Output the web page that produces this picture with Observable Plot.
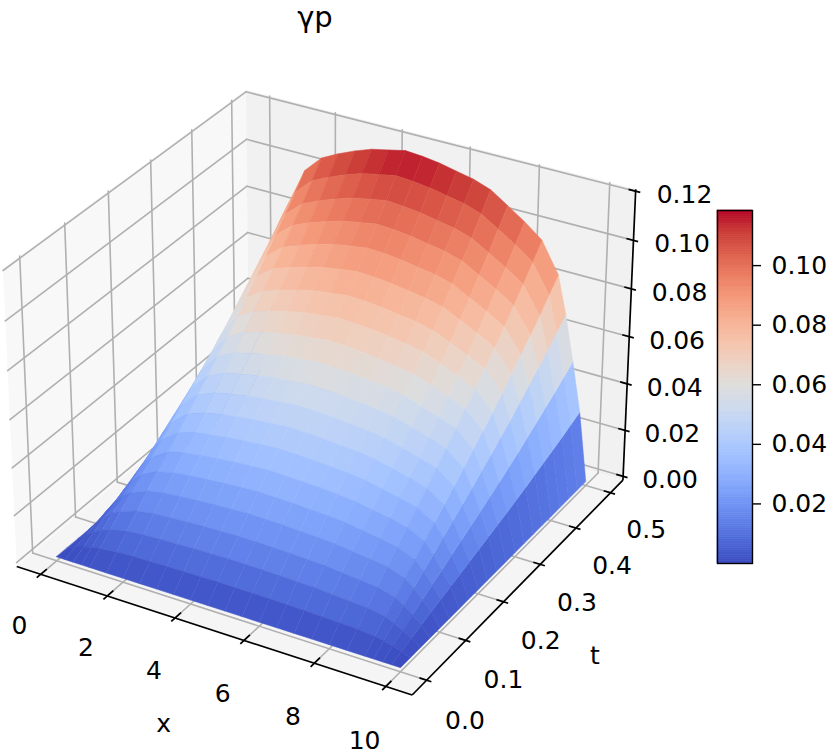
<!DOCTYPE html>
<html><head><meta charset="utf-8">
<script src="https://cdn.jsdelivr.net/npm/d3@7"></script>
<script src="https://cdn.jsdelivr.net/npm/@observablehq/plot@0.6"></script>
<style>
html,body{margin:0;padding:0;background:#fff;}
#fig{position:relative;width:830px;height:754px;overflow:hidden;font-family:"DejaVu Sans",sans-serif;background:#fff;}
#fig svg{position:absolute;left:0;top:0;}
#title{position:absolute;left:0;width:630px;top:0px;text-align:center;font-size:29px;line-height:normal;color:#000;z-index:3;font-family:"DejaVu Sans",sans-serif;}
</style></head><body>
<div id="fig"><div id="title">γp</div></div>
<script>
// ---- data ----
const xs = [0, 0.25, 0.5, 0.75, 1, 1.5, 2, 2.5, 3, 3.5, 4, 4.5, 5, 5.5, 6, 6.5, 7, 7.5, 8, 8.5, 9, 9.25, 9.5, 9.75, 10];
const ts = [0, 0.025, 0.05, 0.075, 0.1, 0.125, 0.15, 0.175, 0.2, 0.225, 0.25, 0.275, 0.3, 0.325, 0.35, 0.375, 0.4, 0.425, 0.45, 0.475, 0.5];
// γp(x, t): one row per value of ts, one column per value of xs
const gammaP = [
  [0,0,0,0,0,0,0,0,0,0,0,0,0,0,0,0,0,0,0,0,0,0,0,0,0],
  [0,0.0014,0.0026,0.0036,0.0042,0.0050,0.0054,0.0055,0.0057,0.0058,0.0059,0.0060,0.0059,0.0059,0.0058,0.0057,0.0056,0.0054,0.0051,0.0049,0.0042,0.0035,0.0025,0.0015,0],
  [0,0.0028,0.0052,0.0071,0.0084,0.0100,0.0107,0.0110,0.0113,0.0116,0.0117,0.0119,0.0118,0.0117,0.0116,0.0114,0.0112,0.0107,0.0102,0.0097,0.0084,0.0069,0.0050,0.0029,0],
  [0,0.0042,0.0077,0.0105,0.0124,0.0147,0.0158,0.0163,0.0167,0.0171,0.0173,0.0175,0.0174,0.0173,0.0171,0.0168,0.0165,0.0158,0.0151,0.0143,0.0124,0.0102,0.0074,0.0043,0],
  [0,0.0055,0.0101,0.0138,0.0164,0.0194,0.0208,0.0215,0.0220,0.0225,0.0228,0.0231,0.0230,0.0228,0.0225,0.0222,0.0217,0.0208,0.0199,0.0188,0.0164,0.0134,0.0097,0.0057,0],
  [0,0.0068,0.0125,0.0170,0.0202,0.0239,0.0256,0.0265,0.0271,0.0277,0.0281,0.0285,0.0283,0.0281,0.0277,0.0274,0.0268,0.0256,0.0245,0.0232,0.0202,0.0165,0.0119,0.0070,0],
  [0,0.0080,0.0148,0.0202,0.0239,0.0284,0.0304,0.0314,0.0322,0.0329,0.0333,0.0338,0.0336,0.0333,0.0329,0.0325,0.0318,0.0304,0.0291,0.0275,0.0239,0.0195,0.0141,0.0083,0],
  [0,0.0093,0.0172,0.0234,0.0277,0.0329,0.0352,0.0364,0.0373,0.0381,0.0386,0.0391,0.0390,0.0386,0.0381,0.0377,0.0368,0.0353,0.0337,0.0319,0.0277,0.0226,0.0164,0.0096,0],
  [0,0.0105,0.0195,0.0266,0.0315,0.0373,0.0399,0.0413,0.0424,0.0433,0.0439,0.0444,0.0443,0.0439,0.0433,0.0428,0.0418,0.0401,0.0383,0.0362,0.0315,0.0257,0.0186,0.0109,0],
  [0,0.0118,0.0219,0.0298,0.0353,0.0418,0.0447,0.0463,0.0475,0.0485,0.0492,0.0498,0.0496,0.0492,0.0485,0.0479,0.0468,0.0449,0.0429,0.0406,0.0353,0.0288,0.0208,0.0122,0],
  [0,0.0130,0.0242,0.0330,0.0391,0.0463,0.0495,0.0512,0.0525,0.0537,0.0544,0.0551,0.0549,0.0544,0.0537,0.0530,0.0518,0.0497,0.0474,0.0449,0.0391,0.0319,0.0230,0.0135,0],
  [0,0.0144,0.0267,0.0364,0.0431,0.0510,0.0546,0.0564,0.0579,0.0592,0.0600,0.0608,0.0605,0.0600,0.0592,0.0584,0.0571,0.0548,0.0523,0.0495,0.0431,0.0352,0.0254,0.0149,0],
  [0,0.0157,0.0291,0.0398,0.0470,0.0557,0.0596,0.0616,0.0633,0.0647,0.0655,0.0664,0.0661,0.0655,0.0647,0.0638,0.0624,0.0598,0.0571,0.0540,0.0470,0.0384,0.0277,0.0162,0],
  [0,0.0171,0.0317,0.0434,0.0512,0.0607,0.0650,0.0671,0.0690,0.0705,0.0714,0.0723,0.0720,0.0714,0.0705,0.0695,0.0680,0.0652,0.0622,0.0589,0.0512,0.0418,0.0302,0.0177,0],
  [0,0.0185,0.0343,0.0469,0.0554,0.0657,0.0703,0.0726,0.0746,0.0762,0.0772,0.0782,0.0779,0.0772,0.0762,0.0752,0.0736,0.0705,0.0673,0.0637,0.0554,0.0452,0.0327,0.0191,0],
  [0,0.0201,0.0372,0.0508,0.0601,0.0712,0.0762,0.0787,0.0808,0.0826,0.0837,0.0847,0.0844,0.0837,0.0826,0.0815,0.0798,0.0764,0.0729,0.0690,0.0601,0.0490,0.0354,0.0207,0],
  [0,0.0216,0.0400,0.0547,0.0647,0.0766,0.0820,0.0847,0.0870,0.0889,0.0901,0.0912,0.0909,0.0901,0.0889,0.0878,0.0859,0.0822,0.0785,0.0743,0.0647,0.0527,0.0381,0.0223,0],
  [0,0.0231,0.0429,0.0586,0.0693,0.0821,0.0879,0.0908,0.0932,0.0953,0.0966,0.0978,0.0974,0.0966,0.0953,0.0941,0.0920,0.0881,0.0842,0.0796,0.0693,0.0565,0.0409,0.0239,0],
  [0,0.0246,0.0458,0.0625,0.0739,0.0876,0.0937,0.0968,0.0994,0.1016,0.1030,0.1043,0.1038,0.1030,0.1016,0.1003,0.0981,0.0940,0.0898,0.0849,0.0739,0.0603,0.0436,0.0255,0],
  [0,0.0263,0.0489,0.0668,0.0790,0.0936,0.1001,0.1034,0.1062,0.1086,0.1100,0.1114,0.1109,0.1100,0.1086,0.1072,0.1048,0.1004,0.0959,0.0907,0.0790,0.0644,0.0466,0.0273,0],
  [0,0.0280,0.0520,0.0710,0.0840,0.0995,0.1065,0.1100,0.1130,0.1155,0.1170,0.1185,0.1180,0.1170,0.1155,0.1140,0.1115,0.1068,0.1020,0.0965,0.0840,0.0685,0.0495,0.0290,0]
];
const xTicks = [0, 2, 4, 6, 8, 10];
const xTickLabels = ["0", "2", "4", "6", "8", "10"];
const tTicks = [0, 0.1, 0.2, 0.3, 0.4, 0.5];
const tTickLabels = ["0.0", "0.1", "0.2", "0.3", "0.4", "0.5"];
const zTicks = [0, 0.02, 0.04, 0.06, 0.08, 0.10, 0.12];
const zTickLabels = ["0.00", "0.02", "0.04", "0.06", "0.08", "0.10", "0.12"];
const cbTicks = [0.02, 0.04, 0.06, 0.08, 0.10];
const colorLimits = [0, 0.1185];
// matplotlib "coolwarm" control colours (evenly spaced)
const coolwarm = ["#3b4cc0","#4d68d7","#6282ea","#779af7","#8db0fe","#a3c2ff","#b8d0f9","#ccd9ee","#dddddd","#ecd3c5","#f5c4ac","#f7b194","#f49a7b","#ec7f63","#de604d","#cb3e38","#b40426"];

// ---- axes box (pane extents) and view ----
const xPane = [-0.729, 10.729], tPane = [-0.03646, 0.53646], zPane = [-0.0017, 0.1208];
const nrm = Math.hypot(4, 4, 3);
const aspect = [4, 4, 3].map(v => v * 1.8294640721620434 / nrm);
const deg = Math.PI / 180, elev = 30 * deg, azim = -60 * deg, dist = 10;
const Rc = aspect.map(v => v / 2);
const pdir = [Math.cos(elev) * Math.cos(azim), Math.cos(elev) * Math.sin(azim), Math.sin(elev)];
const eye = Rc.map((r, i) => r + dist * pdir[i]);
const cross = (a, b) => [a[1]*b[2]-a[2]*b[1], a[2]*b[0]-a[0]*b[2], a[0]*b[1]-a[1]*b[0]];
const unit = a => { const n = Math.hypot(...a); return a.map(v => v / n); };
const W = unit(pdir), U = unit(cross([0, 0, 1], W)), V = cross(W, U);
function proj(x, t, z) {
  const q = [(x - xPane[0]) / (xPane[1] - xPane[0]) * aspect[0],
             (t - tPane[0]) / (tPane[1] - tPane[0]) * aspect[1],
             (z - zPane[0]) / (zPane[1] - zPane[0]) * aspect[2]];
  const d = q.map((v, i) => v - eye[i]);
  const xv = U[0]*d[0] + U[1]*d[1] + U[2]*d[2];
  const yv = V[0]*d[0] + V[1]*d[1] + V[2]*d[2];
  const zv = W[0]*d[0] + W[1]*d[1] + W[2]*d[2];
  return {X: xv / -zv, Y: yv / -zv, depth: zv};
}
// projection plane -> page
const cx = 324.7, cy = 378, S = 3965;
const xDomain = [(0 - cx) / S, (830 - cx) / S];
const yDomain = [(cy - 754) / S, (cy - 0) / S];

let gid = 0;
function addPath(arr, pts) {
  const id = gid++;
  for (const p of pts) { const P = proj(...p); arr.push({X: P.X, Y: P.Y, id}); }
}
const [x0, x1] = xPane, [t0, t1] = tPane, [z0, z1] = zPane;
const paneLeft = [], paneBack = [], paneFloor = [];
addPath(paneLeft, [[x0,t0,z0],[x0,t1,z0],[x0,t1,z1],[x0,t0,z1]]);
addPath(paneBack, [[x0,t1,z0],[x1,t1,z0],[x1,t1,z1],[x0,t1,z1]]);
addPath(paneFloor, [[x0,t0,z0],[x1,t0,z0],[x1,t1,z0],[x0,t1,z0]]);

const grid = [];
xTicks.forEach(x => { addPath(grid, [[x,t0,z0],[x,t1,z0]]); addPath(grid, [[x,t1,z0],[x,t1,z1]]); });
tTicks.forEach(t => { addPath(grid, [[x0,t,z0],[x1,t,z0]]); addPath(grid, [[x0,t,z0],[x0,t,z1]]); });
zTicks.forEach(z => { addPath(grid, [[x0,t0,z],[x0,t1,z]]); addPath(grid, [[x0,t1,z],[x1,t1,z]]); });

const axes = [];
addPath(axes, [[x0,t0,z0],[x1,t0,z0]]);
addPath(axes, [[x1,t0,z0],[x1,t1,z0]]);
addPath(axes, [[x1,t1,z0],[x1,t1,z1]]);
xTicks.forEach(x => addPath(axes, [[x,t0-0.009,z0],[x,t0+0.014,z0]]));
tTicks.forEach(t => addPath(axes, [[x1+0.13,t,z0],[x1-0.2,t,z0]]));
zTicks.forEach(z => addPath(axes, [[x1+0.13,t1,z],[x1-0.2,t1,z]]));

const labels = [];
xTicks.forEach((x, i) => { const P = proj(x, t0 - 0.0516, z0 - 0.0138); labels.push({X: P.X, Y: P.Y, text: xTickLabels[i]}); });
tTicks.forEach((t, i) => { const P = proj(x1 + 1.07, t, z0 - 0.0117); labels.push({X: P.X, Y: P.Y, text: tTickLabels[i]}); });
zTicks.forEach((z, i) => { const P = proj(x1 + 1.156, t1 + 0.0215, z); labels.push({X: P.X, Y: P.Y, text: zTickLabels[i]}); });
{ const P = proj(5, t0 - 0.11, z0 - 0.0218); labels.push({X: P.X, Y: P.Y, text: "x"}); }
{ const P = proj(x1 + 2.11, 0.25, z0 - 0.0213); labels.push({X: P.X, Y: P.Y, text: "t"}); }

// surface facets, painter's order (farthest first)
const cells = [];
for (let i = 0; i < ts.length - 1; i++) {
  for (let j = 0; j < xs.length - 1; j++) {
    const corners = [[j,i],[j+1,i],[j+1,i+1],[j,i+1]].map(([a,b]) => [xs[a], ts[b], gammaP[b][a]]);
    const c = d3.mean(corners, p => p[2]);
    const P = corners.map(p => proj(...p));
    cells.push({P, c, depth: d3.mean(P, p => p.depth)});
  }
}
cells.sort((a, b) => a.depth - b.depth);
const facets = [];
cells.forEach((cell, k) => cell.P.forEach(p => facets.push({X: p.X, Y: p.Y, id: k, c: cell.c})));

const colorScale = {type: "linear", domain: coolwarm.map((_, i) => colorLimits[0] + (colorLimits[1] - colorLimits[0]) * i / (coolwarm.length - 1)), range: coolwarm, interpolate: "rgb", clamp: true};

const main = Plot.plot({
  width: 830, height: 754, margin: 0,
  x: {domain: xDomain, axis: null},
  y: {domain: yDomain, axis: null},
  color: colorScale,
  style: {background: "white", fontFamily: "DejaVu Sans, sans-serif", fontSize: "25px", color: "black", overflow: "visible"},
  marks: [
    Plot.line(paneLeft, {x: "X", y: "Y", fill: "#f8f8f8", stroke: "none", curve: "linear-closed"}),
    Plot.line(paneBack, {x: "X", y: "Y", fill: "#f1f1f1", stroke: "none", curve: "linear-closed"}),
    Plot.line(paneFloor, {x: "X", y: "Y", fill: "#f5f5f5", stroke: "none", curve: "linear-closed"}),
    Plot.line(grid, {x: "X", y: "Y", z: "id", stroke: "#b0b0b0", strokeWidth: 1.6}),
    Plot.line(facets, {x: "X", y: "Y", z: "id", fill: "c", stroke: "c", strokeWidth: 0.5, curve: "linear-closed"}),
    Plot.line(axes, {x: "X", y: "Y", z: "id", stroke: "black", strokeWidth: 1.7, strokeLinecap: "butt"}),
    Plot.text(labels, {x: "X", y: "Y", text: "text", fontSize: 25, fill: "black"})
  ]
});

const cbN = 160;
const cbCells = d3.range(cbN).map(k => ({y1: colorLimits[0] + (colorLimits[1]-colorLimits[0]) * k / cbN, y2: colorLimits[0] + (colorLimits[1]-colorLimits[0]) * (k + 1) / cbN}));
cbCells.forEach(d => d.v = (d.y1 + d.y2) / 2);
const cbar = Plot.plot({
  width: 830, height: 754, marginLeft: 717, marginRight: 78, marginTop: 210, marginBottom: 191,
  x: {domain: [0, 1], axis: null},
  y: {domain: colorLimits, axis: null},
  color: colorScale,
  style: {background: "transparent", fontFamily: "DejaVu Sans, sans-serif", fontSize: "25px", color: "black", overflow: "visible"},
  marks: [
    Plot.rect(cbCells, {x1: 0, x2: 1, y1: "y1", y2: "y2", fill: "v", stroke: "v", strokeWidth: 0.6}),
    Plot.frame({stroke: "black", strokeWidth: 1.4}),
    Plot.axisY({anchor: "right", ticks: cbTicks, tickFormat: d3.format(".2f"), tickSize: 8, tickPadding: 11, fontSize: 25, label: null, strokeWidth: 1.4})
  ]
});
const fig = document.getElementById("fig");
fig.insertBefore(cbar, fig.firstChild);
fig.insertBefore(main, fig.firstChild);
</script></body></html>
